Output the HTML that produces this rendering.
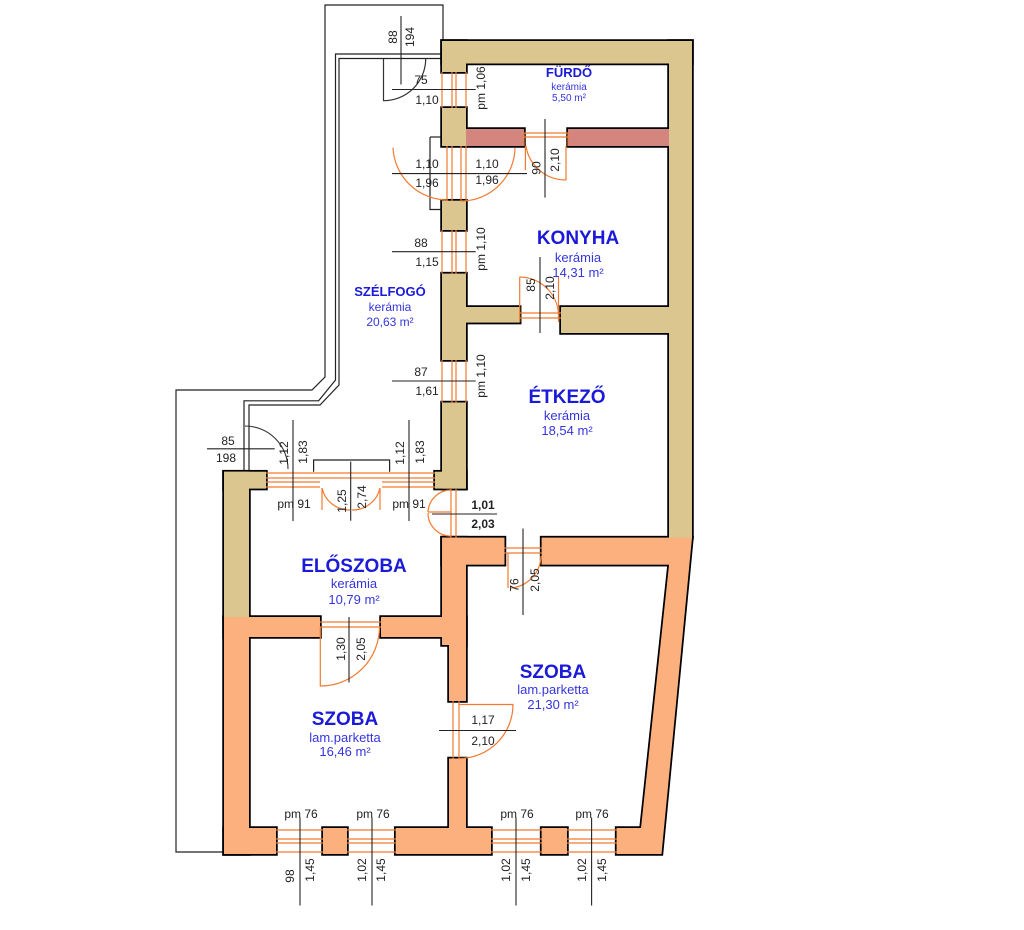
<!DOCTYPE html>
<html><head><meta charset="utf-8"><style>
html,body{margin:0;padding:0;background:#fff;}
svg{display:block;}
text{font-family:"Liberation Sans",sans-serif;}
.d{font-size:12px;fill:#222;}
.b{fill:#1a1ad8;font-weight:bold;}
.s{fill:#3535e0;}
</style></head><body>
<svg width="1024" height="930" viewBox="0 0 1024 930" xmlns="http://www.w3.org/2000/svg">
<rect width="1024" height="930" fill="#fff"/>
<!-- thin outer lines -->
<g fill="none" stroke="#222" stroke-width="1.2">
<polyline points="443,41 443,5 325,5 325,377 312,390 176,390 176,852 224,852"/>
<polyline points="442,54 335.5,54 335.5,380 318.6,400.8 244,400.8 244,471.7"/>
<polyline points="442,58.5 339,58.5 339,385 320,405 249,405 249,471.7"/>
<polyline points="430,137 430,209.5 442,209.5"/>
<line x1="430" y1="137" x2="442" y2="137"/>
<polyline points="313.6,471.7 313.6,460 389.6,460 389.6,471.7"/>
</g>
<!-- walls pass 1: stroked -->
<g stroke="#000" stroke-width="3.5">
<g fill="#dcc68f">
<rect x="442" y="41" width="250" height="22.5"/>
<rect x="669" y="41" width="23" height="497"/>
<rect x="442" y="41" width="24" height="31"/>
<rect x="442" y="108" width="24" height="38"/>
<rect x="442" y="200.7" width="24" height="29.3"/>
<rect x="442" y="273.6" width="24" height="86.4"/>
<rect x="442" y="402.5" width="24" height="86.1"/>
<rect x="435" y="471.7" width="31" height="16.9"/>
<rect x="466" y="307" width="53.7" height="15.6"/>
<rect x="561" y="307" width="108" height="26"/>
<rect x="224" y="471.7" width="42" height="16.9"/>
<rect x="224" y="471.7" width="25" height="146"/>
</g>
<g fill="#d4857d">
<rect x="466" y="129" width="58" height="17"/>
<rect x="568" y="129" width="101" height="17"/>
</g>
<g fill="#fbb07e">
<rect x="442" y="537.6" width="62.5" height="27.1"/>
<rect x="541.6" y="537.6" width="127.4" height="27.1"/>
<polygon points="669,537.6 692,537.6 661.5,854 616.6,854 616.6,828 641,828 669,565"/>
<rect x="442" y="537.6" width="24" height="107.4"/>
<rect x="449" y="640" width="17" height="61"/>
<rect x="449" y="758.5" width="17" height="70"/>
<rect x="224" y="617" width="96" height="20"/>
<rect x="381" y="617" width="85" height="20"/>
<rect x="224" y="617" width="25" height="237"/>
<rect x="224" y="828" width="52" height="26"/>
<rect x="323" y="828" width="24" height="26"/>
<rect x="395.7" y="828" width="95.3" height="26"/>
<rect x="541.6" y="828" width="25.4" height="26"/>
</g>
</g>
<!-- walls pass 2: fill only -->
<g stroke="none">
<g fill="#dcc68f">
<rect x="442" y="41" width="250" height="22.5"/>
<rect x="669" y="41" width="23" height="497"/>
<rect x="442" y="41" width="24" height="31"/>
<rect x="442" y="108" width="24" height="38"/>
<rect x="442" y="200.7" width="24" height="29.3"/>
<rect x="442" y="273.6" width="24" height="86.4"/>
<rect x="442" y="402.5" width="24" height="86.1"/>
<rect x="435" y="471.7" width="31" height="16.9"/>
<rect x="466" y="307" width="53.7" height="15.6"/>
<rect x="561" y="307" width="108" height="26"/>
<rect x="224" y="471.7" width="42" height="16.9"/>
<rect x="224" y="471.7" width="25" height="146"/>
</g>
<g fill="#d4857d">
<rect x="466" y="129" width="58" height="17"/>
<rect x="568" y="129" width="101" height="17"/>
</g>
<g fill="#fbb07e">
<rect x="442" y="537.6" width="62.5" height="27.1"/>
<rect x="541.6" y="537.6" width="127.4" height="27.1"/>
<polygon points="669,537.6 692,537.6 661.5,854 616.6,854 616.6,828 641,828 669,565"/>
<rect x="442" y="537.6" width="24" height="107.4"/>
<rect x="449" y="640" width="17" height="61"/>
<rect x="449" y="758.5" width="17" height="70"/>
<rect x="224" y="617" width="96" height="20"/>
<rect x="381" y="617" width="85" height="20"/>
<rect x="224" y="617" width="25" height="237"/>
<rect x="224" y="828" width="52" height="26"/>
<rect x="323" y="828" width="24" height="26"/>
<rect x="395.7" y="828" width="95.3" height="26"/>
<rect x="541.6" y="828" width="25.4" height="26"/>
</g>
</g>
<!-- windows / door frames (orange) -->
<g fill="none" stroke="#f27a30" stroke-width="1.2">
<!-- vertical windows in left column -->
<path d="M442,72V108M466,72V108M452,72V108M456,72V108"/>
<path d="M442,230V273.6M466,230V273.6M452,230V273.6M456,230V273.6"/>
<path d="M442,360V402.5M466,360V402.5M452,360V402.5M456,360V402.5"/>
<path d="M447,146V200.7M452,146V200.7M461,146V200.7M466,146V200.7"/>
<!-- fürdő door -->
<path d="M524,133V146M568,133V146M524,133H568M524,137H568"/>
<path d="M525.4,146V170 M566,146V180 M566,180 A40,40 0 0 1 526,146"/>
<!-- double door 1,10 -->
<path d="M393,147.6 A54.7,54.7 0 0 0 447.7,200"/>
<path d="M515,147.6 A54,54 0 0 1 461,201"/>
<!-- konyha door -->
<path d="M519.7,277V322M558.5,277V322M519.7,313H561M519.7,318H561"/>
<path d="M519.7,277 A39,39 0 0 1 558.5,316"/>
<!-- szélfogó outer door -->
<path d="M383.5,59V100.7 A42,42 0 0 0 425.7,59" stroke="#333"/>
<!-- left bottom windows row -->
<path d="M266,473H320M266,487H320M266,478H320M266,482H320"/>
<path d="M382,473H435M382,487H435M382,478H435M382,482H435"/>
<path d="M320,473H382M320,478H382"/>
<path d="M322,488 A28,28 0 0 0 350,510 M380,488 A28,28 0 0 1 352,510 M322,488V510M380,488V510"/>
<!-- étkező double door -->
<path d="M451,489V537.6M456,489V537.6"/>
<path d="M451,490 A23,23 0 0 0 428,512 M451,536 A23,23 0 0 1 428,513 M428,512H451"/>
<!-- door 76 -->
<path d="M504.5,548H541.6M504.5,553H541.6M508,553V588 M541,556 A33,33 0 0 1 511,588"/>
<!-- előszoba lower door -->
<path d="M320,622H381M320,627H381M320.3,627V686 A59,59 0 0 0 379.5,626.8"/>
<!-- door 1,17 -->
<path d="M453,701V758.5M459,701V758.5M459,704.5H513 A54,54 0 0 1 459,758.5"/>
<!-- bottom windows -->
<path d="M276,830H323M276,852H323M276,839H323M276,843H323"/>
<path d="M347,830H395.7M347,852H395.7M347,839H395.7M347,843H395.7"/>
<path d="M491,830H541.6M491,852H541.6M491,839H541.6M491,843H541.6"/>
<path d="M567,830H616.6M567,852H616.6M567,839H616.6M567,843H616.6"/>
</g>
<!-- dimension lines -->
<g stroke="#222" stroke-width="1.1">
<line x1="401" y1="16" x2="401" y2="84.5"/>
<line x1="392" y1="89.5" x2="475.7" y2="89.5"/>
<line x1="392" y1="173.6" x2="527" y2="173.6"/>
<line x1="545" y1="119" x2="545" y2="197.6"/>
<line x1="392" y1="251.7" x2="475.7" y2="251.7"/>
<line x1="540" y1="257" x2="540" y2="333"/>
<line x1="392" y1="381" x2="475.7" y2="381"/>
<line x1="207" y1="448.8" x2="274.7" y2="448.8"/>
<line x1="293" y1="420" x2="293" y2="521"/>
<line x1="409" y1="420" x2="409" y2="521"/>
<line x1="350.7" y1="461.6" x2="350.7" y2="520.7"/>
<line x1="432" y1="514" x2="497" y2="514"/>
<line x1="523" y1="528.5" x2="523" y2="615"/>
<line x1="349" y1="617" x2="349" y2="682.5"/>
<line x1="439" y1="730.5" x2="516" y2="730.5"/>
<line x1="300" y1="817.6" x2="300" y2="905.5"/>
<line x1="372" y1="817.6" x2="372" y2="905.5"/>
<line x1="516" y1="817.6" x2="516" y2="905.5"/>
<line x1="591.6" y1="817.6" x2="591.6" y2="905.5"/>
</g>
<path d="M245,426 A43,43 0 0 1 288,469" fill="none" stroke="#333" stroke-width="1.1"/>
<!-- dimension texts -->
<g class="d">
<text x="393" y="37" transform="rotate(-90 393 37)" text-anchor="middle" dominant-baseline="central">88</text>
<text x="410" y="37" transform="rotate(-90 410 37)" text-anchor="middle" dominant-baseline="central">194</text>
<text x="421" y="84" text-anchor="middle">75</text>
<text x="427" y="104" text-anchor="middle">1,10</text>
<text x="481" y="88" transform="rotate(-90 481 88)" text-anchor="middle" dominant-baseline="central">pm 1,06</text>
<text x="427" y="168" text-anchor="middle">1,10</text>
<text x="427" y="187" text-anchor="middle">1,96</text>
<text x="487" y="168" text-anchor="middle">1,10</text>
<text x="487" y="184" text-anchor="middle">1,96</text>
<text x="536.5" y="168" transform="rotate(-90 536.5 168)" text-anchor="middle" dominant-baseline="central">90</text>
<text x="555" y="160" transform="rotate(-90 555 160)" text-anchor="middle" dominant-baseline="central">2,10</text>
<text x="421" y="247" text-anchor="middle">88</text>
<text x="427" y="266" text-anchor="middle">1,15</text>
<text x="481" y="249" transform="rotate(-90 481 249)" text-anchor="middle" dominant-baseline="central">pm 1,10</text>
<text x="531" y="285" transform="rotate(-90 531 285)" text-anchor="middle" dominant-baseline="central">85</text>
<text x="550" y="288" transform="rotate(-90 550 288)" text-anchor="middle" dominant-baseline="central">2,10</text>
<text x="421" y="376" text-anchor="middle">87</text>
<text x="427" y="395" text-anchor="middle">1,61</text>
<text x="481" y="376" transform="rotate(-90 481 376)" text-anchor="middle" dominant-baseline="central">pm 1,10</text>
<text x="228" y="445" text-anchor="middle">85</text>
<text x="226" y="462" text-anchor="middle">198</text>
<text x="284" y="453" transform="rotate(-90 284 453)" text-anchor="middle" dominant-baseline="central">1,12</text>
<text x="303" y="452" transform="rotate(-90 303 452)" text-anchor="middle" dominant-baseline="central">1,83</text>
<text x="400" y="453" transform="rotate(-90 400 453)" text-anchor="middle" dominant-baseline="central">1,12</text>
<text x="420" y="452" transform="rotate(-90 420 452)" text-anchor="middle" dominant-baseline="central">1,83</text>
<text x="294" y="508" text-anchor="middle">pm 91</text>
<text x="409" y="508" text-anchor="middle">pm 91</text>
<text x="342" y="501" transform="rotate(-90 342 501)" text-anchor="middle" dominant-baseline="central">1,25</text>
<text x="362" y="497" transform="rotate(-90 362 497)" text-anchor="middle" dominant-baseline="central">2,74</text>
<text x="483" y="509" text-anchor="middle" font-weight="bold">1,01</text>
<text x="483" y="528" text-anchor="middle" font-weight="bold">2,03</text>
<text x="514.6" y="585" transform="rotate(-90 514.6 585)" text-anchor="middle" dominant-baseline="central">76</text>
<text x="535" y="580" transform="rotate(-90 535 580)" text-anchor="middle" dominant-baseline="central">2,05</text>
<text x="341" y="649" transform="rotate(-90 341 649)" text-anchor="middle" dominant-baseline="central">1,30</text>
<text x="361" y="649" transform="rotate(-90 361 649)" text-anchor="middle" dominant-baseline="central">2,05</text>
<text x="483" y="724" text-anchor="middle">1,17</text>
<text x="483" y="745" text-anchor="middle">2,10</text>
<text x="301" y="818" text-anchor="middle">pm 76</text>
<text x="373" y="818" text-anchor="middle">pm 76</text>
<text x="517" y="818" text-anchor="middle">pm 76</text>
<text x="592" y="818" text-anchor="middle">pm 76</text>
<text x="290" y="876" transform="rotate(-90 290 876)" text-anchor="middle" dominant-baseline="central">98</text>
<text x="310" y="870" transform="rotate(-90 310 870)" text-anchor="middle" dominant-baseline="central">1,45</text>
<text x="362" y="870" transform="rotate(-90 362 870)" text-anchor="middle" dominant-baseline="central">1,02</text>
<text x="381" y="870" transform="rotate(-90 381 870)" text-anchor="middle" dominant-baseline="central">1,45</text>
<text x="506" y="870" transform="rotate(-90 506 870)" text-anchor="middle" dominant-baseline="central">1,02</text>
<text x="526" y="870" transform="rotate(-90 526 870)" text-anchor="middle" dominant-baseline="central">1,45</text>
<text x="582" y="870" transform="rotate(-90 582 870)" text-anchor="middle" dominant-baseline="central">1,02</text>
<text x="602" y="870" transform="rotate(-90 602 870)" text-anchor="middle" dominant-baseline="central">1,45</text>
</g>
<!-- room labels -->
<g text-anchor="middle">
<text x="569" y="77" class="b" font-size="13">FÜRDŐ</text>
<text x="569" y="90" class="s" font-size="10">kerámia</text>
<text x="569" y="101" class="s" font-size="10">5,50 m²</text>
<text x="578" y="244" class="b" font-size="19">KONYHA</text>
<text x="578" y="262" class="s" font-size="13">kerámia</text>
<text x="578" y="277" class="s" font-size="13">14,31 m²</text>
<text x="390" y="296" class="b" font-size="13">SZÉLFOGÓ</text>
<text x="390" y="311" class="s" font-size="12">kerámia</text>
<text x="390" y="326" class="s" font-size="12">20,63 m²</text>
<text x="567" y="403" class="b" font-size="19">ÉTKEZŐ</text>
<text x="567" y="420" class="s" font-size="13">kerámia</text>
<text x="567" y="435" class="s" font-size="13">18,54 m²</text>
<text x="354" y="572" class="b" font-size="19">ELŐSZOBA</text>
<text x="354" y="588" class="s" font-size="13">kerámia</text>
<text x="354" y="604" class="s" font-size="13">10,79 m²</text>
<text x="345" y="725" class="b" font-size="19">SZOBA</text>
<text x="345" y="742" class="s" font-size="13">lam.parketta</text>
<text x="345" y="756" class="s" font-size="13">16,46 m²</text>
<text x="553" y="678" class="b" font-size="19">SZOBA</text>
<text x="553" y="694" class="s" font-size="13">lam.parketta</text>
<text x="553" y="709" class="s" font-size="13">21,30 m²</text>
</g>
</svg>
</body></html>
